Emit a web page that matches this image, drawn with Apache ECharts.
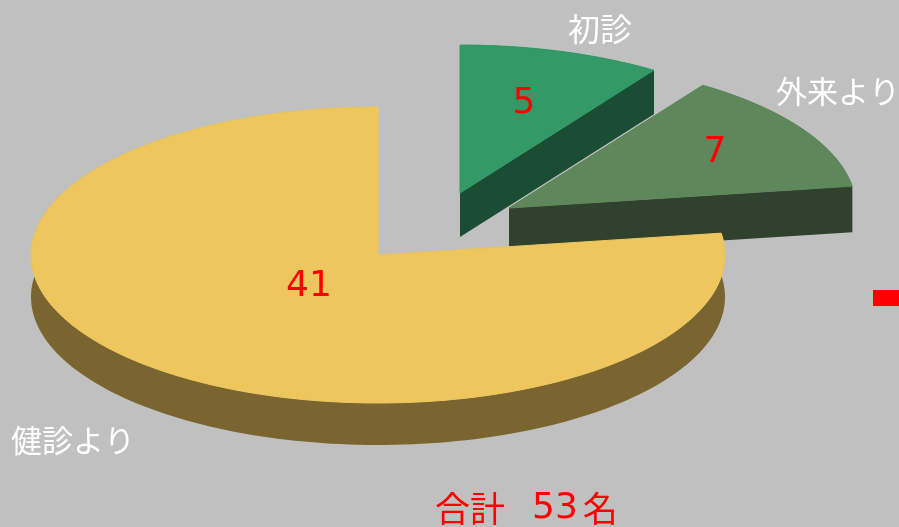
<!DOCTYPE html>
<html>
<head>
<meta charset="utf-8">
<style>html,body{margin:0;padding:0;background:#c0c0c0}#chart{width:899px;height:527px}</style>
<script src="https://cdn.jsdelivr.net/npm/echarts@6/dist/echarts.min.js"></script>
</head>
<body>
<div id="chart"></div>
<script>
// Patients by referral route
const categories = ['初診', '外来より', '健診より'];
const values = [5, 7, 41];
const totalPrefix = '合計';
const totalSuffix = '名';

// Styling and placement of the tilted, exploded pie
const topColors = ['#339966', '#5f875c', '#edc75e'];
const sideColors = ['#1a4d33', '#30412e', '#7a642f'];
const apexes = [[460, 193], [509, 208], [378, 255]];
const depths = [44, 46, 42];
const valueSpots = [[524, 104], [715, 153], [309, 287]];
const nameSpots = [[600, 29], [838, 91], [73, 440]];
const nameSizes = [32, 31, 31];
const radiusX = 347, radiusY = 148;
const digitFont = '36px "DejaVu Sans"';
const cjkFont = '"Noto Sans CJK JP"';

const total = values.reduce((a, b) => a + b, 0);

function renderSlice(params, api) {
  const i = params.dataIndex;
  const before = values.slice(0, i).reduce((a, b) => a + b, 0);
  const start = before / total * 2 * Math.PI;
  const end = (before + api.value(0)) / total * 2 * Math.PI;
  const [cx, cy] = apexes[i];
  const drop = p => [p[0], p[1] + depths[i]];

  // rim of the top face, clockwise from 12 o'clock
  const rim = [];
  const steps = Math.ceil((end - start) / (Math.PI / 120));
  for (let s = 0; s <= steps; s++) {
    const a = start + (end - start) * s / steps;
    rim.push([cx + radiusX * Math.sin(a), cy - radiusY * Math.cos(a)]);
  }
  const apex = [cx, cy];
  const first = rim[0];
  const last = rim[rim.length - 1];

  const wall = points => ({
    type: 'polygon',
    shape: { points },
    style: { fill: sideColors[i] }
  });

  return {
    type: 'group',
    children: [
      // curved wall and the two cut faces
      wall(rim.concat(rim.map(drop).reverse())),
      wall([apex, first, drop(first), drop(apex)]),
      wall([apex, last, drop(last), drop(apex)]),
      {
        type: 'polygon',
        shape: { points: [apex].concat(rim) },
        style: { fill: topColors[i], stroke: topColors[i], lineWidth: 1 }
      },
      {
        type: 'text',
        style: {
          text: String(api.value(0)), x: valueSpots[i][0], y: valueSpots[i][1],
          font: digitFont, fill: '#ff0000', align: 'center', verticalAlign: 'middle'
        }
      },
      {
        type: 'text',
        style: {
          text: categories[i], x: nameSpots[i][0], y: nameSpots[i][1],
          font: nameSizes[i] + 'px ' + cjkFont, fill: '#ffffff',
          align: 'center', verticalAlign: 'middle'
        }
      }
    ]
  };
}

const chart = echarts.init(document.getElementById('chart'), null, { renderer: 'canvas' });
chart.setOption({
  animation: false,
  backgroundColor: '#c0c0c0',
  series: [{
    type: 'custom',
    coordinateSystem: 'none',
    silent: true,
    renderItem: renderSlice,
    data: values.map(v => [v])
  }],
  graphic: [
    {
      type: 'rect', left: 873, top: 290,
      shape: { width: 26, height: 16 },
      style: { fill: '#ff0000' }
    },
    {
      type: 'text', left: 435, top: 491,
      style: {
        rich: {
          k: { font: '35px ' + cjkFont, fill: '#ff0000' },
          g: { font: '35px ' + cjkFont, width: 27 },
          h: { font: '35px ' + cjkFont, width: 5 },
          d: { font: digitFont, fill: '#ff0000' }
        },
        text: `{k|${totalPrefix}}{g| }{d|${total}}{h| }{k|${totalSuffix}}`
      }
    }
  ]
});
</script>
</body>
</html>
